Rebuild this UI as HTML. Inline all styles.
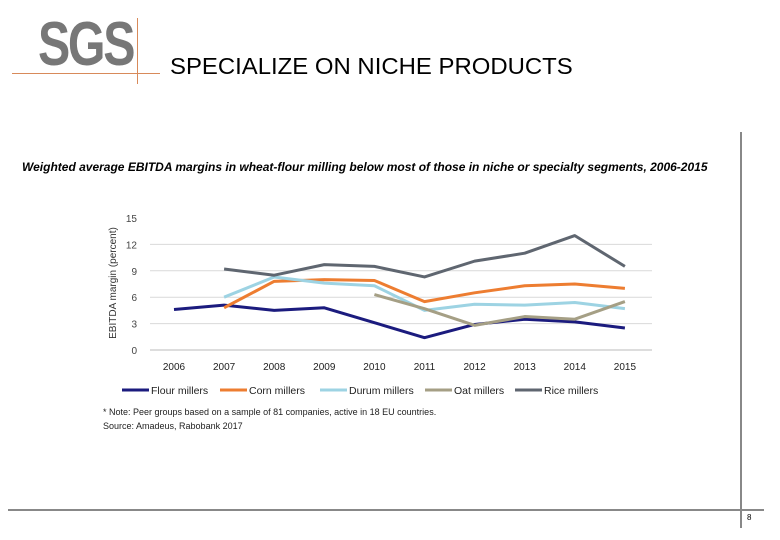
<!DOCTYPE html>
<html><head><meta charset="utf-8"><style>
body{margin:0;background:#fff;width:780px;height:540px;overflow:hidden;position:relative;font-family:"Liberation Sans",sans-serif}
.a{position:absolute}
</style></head><body>
<div class="a" style="left:38px;top:14px;font-size:62px;font-weight:bold;color:#777;letter-spacing:-3px;transform:scaleX(0.78);transform-origin:left top;line-height:62px">SGS</div>
<div class="a" style="left:12px;top:73px;width:148px;height:1px;background:#d88a5a"></div>
<div class="a" style="left:137px;top:18px;width:1px;height:66px;background:#d88a5a"></div>
<div class="a" style="left:170px;top:53px;font-size:23px;color:#000;white-space:nowrap;transform:scaleX(1.04);transform-origin:left top">SPECIALIZE ON NICHE PRODUCTS</div>
<div class="a" style="left:22px;top:160px;font-size:12px;font-weight:bold;font-style:italic;white-space:nowrap;transform:scaleX(1.0);transform-origin:left top">Weighted average EBITDA margins in wheat-flour milling below most of those in niche or specialty segments, 2006-2015</div>
<div class="a" style="left:740px;top:132px;width:2px;height:396px;background:#888"></div>
<div class="a" style="left:8px;top:509px;width:756px;height:2px;background:#888"></div>
<div class="a" style="left:747px;top:513px;font-size:8px">8</div>
<svg class="a" style="left:0;top:0" width="780" height="540">
<g id="g"></g>
</svg>
<script>
const years=[2006,2007,2008,2009,2010,2011,2012,2013,2014,2015];
const yTicks=[0,3,6,9,12,15];
const flour=[4.6,5.1,4.5,4.8,3.1,1.4,2.9,3.5,3.2,2.5];
const corn=[null,4.8,7.8,8.0,7.9,5.5,6.5,7.3,7.5,7.0];
const durum=[null,6.0,8.3,7.6,7.3,4.5,5.2,5.1,5.4,4.7];
const oat=[null,null,null,null,6.3,4.7,2.8,3.8,3.5,5.5];
const rice=[null,9.2,8.5,9.7,9.5,8.3,10.1,11.0,13.0,9.5];
const seriesNames=["Flour millers","Corn millers","Durum millers","Oat millers","Rice millers"];
const NS="http://www.w3.org/2000/svg",g=document.getElementById('g');
const x=i=>174+i*50.1, y=v=>350-v*8.8;
function mk(t,a){const e=document.createElementNS(NS,t);for(const k in a)e.setAttribute(k,a[k]);g.appendChild(e);return e;}
yTicks.forEach(v=>{
 if(v>0&&v<15){const l=mk('line',{x1:150,x2:652,y1:y(v),y2:y(v),stroke:'#d9d9d9','stroke-width':1});
 
 }
 const t=mk('text',{x:137,y:y(v)+4,'text-anchor':'end','font-size':10,fill:'#444','font-family':'Liberation Sans'});t.textContent=v;
 
 
});
const ax=mk('line',{x1:150,x2:652,y1:350,y2:350,stroke:'#bbb'});


years.forEach((yr,i)=>{const t=mk('text',{x:x(i),y:370,'text-anchor':'middle','font-size':10,fill:'#222','font-family':'Liberation Sans'});t.textContent=yr;
 
 });
const yt=mk('text',{transform:'translate(116,283) rotate(-90)','text-anchor':'middle','font-size':10,fill:'#333','font-family':'Liberation Sans'});yt.textContent='EBITDA margin (percent)';


const all=[flour,corn,durum,oat,rice],cols=['#1b1b7e','#ed7d31','#9dd3e3','#a59f85','#5f6670'],lx=[122,220,320,425,515];
all.forEach((s,k)=>{
 const pts=[];s.forEach((v,i)=>{if(v!=null)pts.push(x(i)+','+y(v));});
 const p=mk('polyline',{points:pts.join(' '),fill:'none',stroke:cols[k],'stroke-width':3,'stroke-linejoin':'round'});
 
 
 const l=mk('line',{x1:lx[k],x2:lx[k]+27,y1:390,y2:390,stroke:cols[k],'stroke-width':3});
 
 
 const t=mk('text',{x:lx[k]+29,y:394,'font-size':10.5,fill:'#222','font-family':'Liberation Sans'});t.textContent=seriesNames[k];
 
 
});
const n1=mk('text',{x:103,y:415,'font-size':9,fill:'#222','font-family':'Liberation Sans'});n1.textContent='* Note: Peer groups based on a sample of 81 companies, active in 18 EU countries.';


const n2=mk('text',{x:103,y:429,'font-size':9,fill:'#222','font-family':'Liberation Sans'});n2.textContent='Source: Amadeus, Rabobank 2017';


</script>
</body></html>
